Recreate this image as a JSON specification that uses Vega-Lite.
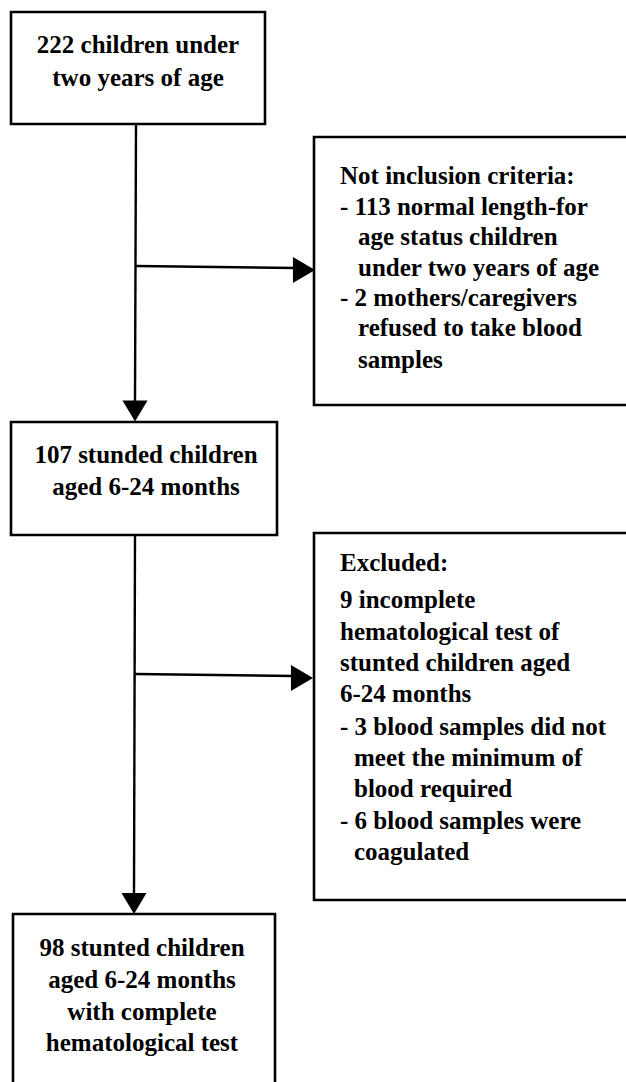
{
  "$schema": "https://vega.github.io/schema/vega-lite/v6.json",
  "width": 626,
  "height": 1082,
  "autosize": {"type": "fit", "contains": "padding"},
  "padding": 0,
  "background": "white",
  "config": {"view": {"stroke": null}},
  "datasets": {
    "boxes": [
      {"box": "start", "x1": 11, "x2": 265, "y1": 12, "y2": 124},
      {"box": "stunted", "x1": 11, "x2": 277, "y1": 422, "y2": 535},
      {"box": "final", "x1": 13, "x2": 275, "y1": 914, "y2": 1100},
      {"box": "notincl", "x1": 314, "x2": 660, "y1": 137, "y2": 405},
      {"box": "excluded", "x1": 314, "x2": 660, "y1": 533, "y2": 900}
    ],
    "lines": [
      {"seg": "down1", "x1": 136, "x2": 135, "y1": 124, "y2": 402},
      {"seg": "right1", "x1": 136, "x2": 296, "y1": 266, "y2": 268},
      {"seg": "down2", "x1": 135, "x2": 134, "y1": 535, "y2": 895},
      {"seg": "right2", "x1": 135, "x2": 294, "y1": 674, "y2": 676}
    ],
    "heads": [
      {"dir": "down", "x": 135, "y": 411},
      {"dir": "down", "x": 134, "y": 903.5},
      {"dir": "right", "x": 304, "y": 270},
      {"dir": "right", "x": 302, "y": 678}
    ],
    "centered": [
      {"t": "222 children under", "x": 138, "y": 45},
      {"t": "two years of age", "x": 138, "y": 78},
      {"t": "107 stunded children", "x": 146, "y": 455},
      {"t": "aged 6-24 months", "x": 146, "y": 487},
      {"t": "98 stunted children", "x": 142, "y": 948},
      {"t": "aged 6-24 months", "x": 142, "y": 980},
      {"t": "with complete", "x": 142, "y": 1012},
      {"t": "hematological test", "x": 142, "y": 1043}
    ],
    "lefttext": [
      {"t": "Not inclusion criteria:", "x": 340, "y": 176},
      {"t": "- 113 normal length-for", "x": 340, "y": 207},
      {"t": "age status children", "x": 358, "y": 237},
      {"t": "under two years of age", "x": 358, "y": 268},
      {"t": "- 2 mothers/caregivers", "x": 340, "y": 298},
      {"t": "refused to take blood", "x": 358, "y": 328},
      {"t": "samples", "x": 358, "y": 360},
      {"t": "Excluded:", "x": 340, "y": 563},
      {"t": "9 incomplete", "x": 340, "y": 600},
      {"t": "hematological test of", "x": 340, "y": 632},
      {"t": "stunted children aged", "x": 340, "y": 663},
      {"t": "6-24 months", "x": 340, "y": 694},
      {"t": "- 3 blood samples did not", "x": 340, "y": 727},
      {"t": "meet the minimum of", "x": 354, "y": 758},
      {"t": "blood required", "x": 354, "y": 789},
      {"t": "- 6 blood samples were", "x": 340, "y": 821},
      {"t": "coagulated", "x": 354, "y": 852}
    ]
  },
  "layer": [
    {
      "data": {"name": "boxes"},
      "mark": {"type": "rect", "fill": "white", "stroke": "black", "strokeWidth": 2.6, "clip": true},
      "encoding": {
        "x": {"field": "x1", "type": "quantitative", "scale": {"domain": [0, 626], "nice": false, "zero": false}, "axis": null},
        "x2": {"field": "x2"},
        "y": {"field": "y1", "type": "quantitative", "scale": {"domain": [0, 1082], "reverse": true, "nice": false, "zero": false}, "axis": null},
        "y2": {"field": "y2"}
      }
    },
    {
      "data": {"name": "lines"},
      "mark": {"type": "rule", "stroke": "black", "strokeWidth": 2.4},
      "encoding": {
        "x": {"field": "x1", "type": "quantitative", "scale": {"domain": [0, 626], "nice": false, "zero": false}, "axis": null},
        "x2": {"field": "x2"},
        "y": {"field": "y1", "type": "quantitative", "scale": {"domain": [0, 1082], "reverse": true, "nice": false, "zero": false}, "axis": null},
        "y2": {"field": "y2"}
      }
    },
    {
      "data": {"name": "heads"},
      "transform": [{"filter": "datum.dir === 'down'"}],
      "mark": {"type": "point", "shape": "M-1,-0.84L1,-0.84L0,0.84Z", "size": 625, "filled": true, "fill": "black", "stroke": null, "opacity": 1},
      "encoding": {
        "x": {"field": "x", "type": "quantitative", "scale": {"domain": [0, 626], "nice": false, "zero": false}, "axis": null},
        "y": {"field": "y", "type": "quantitative", "scale": {"domain": [0, 1082], "reverse": true, "nice": false, "zero": false}, "axis": null}
      }
    },
    {
      "data": {"name": "heads"},
      "transform": [{"filter": "datum.dir === 'right'"}],
      "mark": {"type": "point", "shape": "M-0.85,-1L0.85,0L-0.85,1Z", "size": 676, "filled": true, "fill": "black", "stroke": null, "opacity": 1},
      "encoding": {
        "x": {"field": "x", "type": "quantitative", "scale": {"domain": [0, 626], "nice": false, "zero": false}, "axis": null},
        "y": {"field": "y", "type": "quantitative", "scale": {"domain": [0, 1082], "reverse": true, "nice": false, "zero": false}, "axis": null}
      }
    },
    {
      "data": {"name": "centered"},
      "mark": {"type": "text", "align": "center", "baseline": "middle", "font": "Liberation Serif", "fontWeight": "bold", "fontSize": 25, "fill": "black"},
      "encoding": {
        "x": {"field": "x", "type": "quantitative", "scale": {"domain": [0, 626], "nice": false, "zero": false}, "axis": null},
        "y": {"field": "y", "type": "quantitative", "scale": {"domain": [0, 1082], "reverse": true, "nice": false, "zero": false}, "axis": null},
        "text": {"field": "t"}
      }
    },
    {
      "data": {"name": "lefttext"},
      "mark": {"type": "text", "align": "left", "baseline": "middle", "font": "Liberation Serif", "fontWeight": "bold", "fontSize": 25, "fill": "black"},
      "encoding": {
        "x": {"field": "x", "type": "quantitative", "scale": {"domain": [0, 626], "nice": false, "zero": false}, "axis": null},
        "y": {"field": "y", "type": "quantitative", "scale": {"domain": [0, 1082], "reverse": true, "nice": false, "zero": false}, "axis": null},
        "text": {"field": "t"}
      }
    }
  ]
}
